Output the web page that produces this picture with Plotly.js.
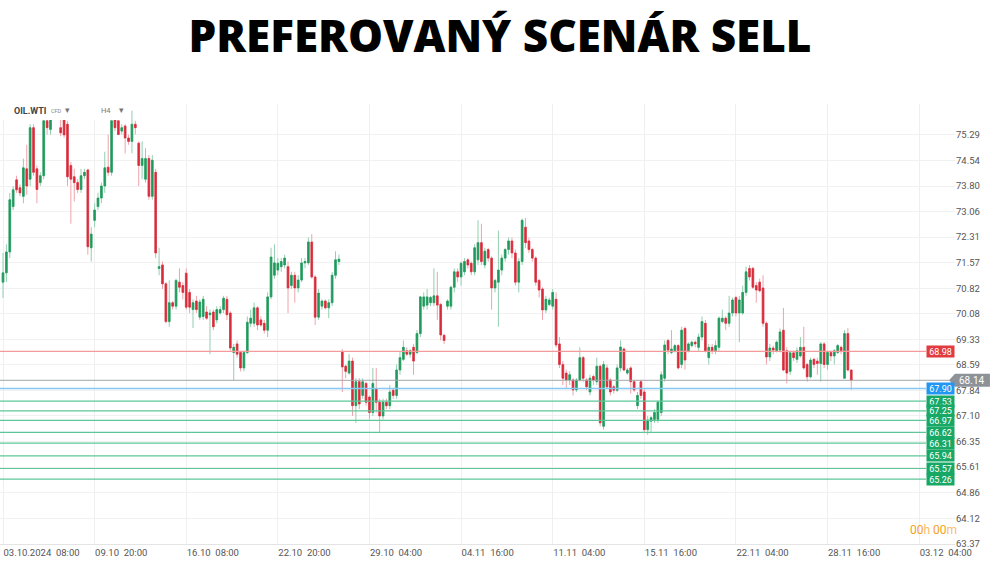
<!DOCTYPE html>
<html>
<head>
<meta charset="utf-8">
<script src="https://cdn.plot.ly/plotly-3.0.1.min.js"></script>
<style>html,body{margin:0;padding:0;background:#fff;}#chart{width:1000px;height:562px;}</style>
</head>
<body>
<div id="chart"></div>
<script>
// ---- DATA (H4 candles, OIL.WTI) ----
const openP = [71.00,71.27,71.88,73.20,73.98,73.75,73.50,74.30,74.00,75.50,
74.30,73.90,74.10,75.70,75.45,75.75,76.30,75.50,75.75,75.60,
74.40,74.07,73.90,73.70,74.10,74.27,72.00,72.80,73.20,73.45,
73.80,74.35,74.20,75.75,75.70,75.40,75.55,75.20,75.10,75.60,
75.05,74.40,74.00,74.60,73.50,74.20,71.40,71.50,70.95,69.85,
70.40,70.30,71.00,70.90,71.26,70.70,70.20,70.45,69.98,70.00,
70.13,70.05,70.13,69.90,70.10,70.20,70.50,70.10,68.95,69.20,
68.95,68.50,68.95,69.80,69.80,70.25,69.90,69.80,69.60,70.57,
71.20,71.35,71.45,71.50,71.45,70.90,71.20,70.83,71.06,71.56,
71.56,72.17,71.15,69.98,70.30,70.45,70.25,70.40,71.20,71.60,
68.97,68.55,68.35,68.70,67.40,68.10,67.70,68.05,67.65,67.20,
67.90,67.50,67.10,67.50,67.40,67.85,67.70,68.44,68.75,69.00,
68.90,69.10,68.95,69.50,70.30,70.33,70.40,70.40,70.60,70.35,
69.45,70.30,70.30,70.85,71.30,71.15,71.30,71.65,71.55,71.30,
71.65,72.15,71.50,71.95,71.70,70.83,71.00,71.35,71.70,71.95,
72.20,71.85,71.00,71.60,72.60,72.20,71.95,71.70,71.05,70.80,
70.19,70.35,70.30,70.50,69.20,68.60,68.35,68.15,68.15,67.86,
68.15,68.80,68.15,67.80,68.25,68.10,68.55,66.80,68.50,68.15,
67.95,67.85,68.50,69.05,68.35,68.50,68.10,67.40,68.10,67.80,
66.70,66.95,67.00,67.00,67.20,68.20,69.30,68.95,69.00,69.15,
68.60,69.65,69.00,69.15,69.25,69.10,69.40,69.80,68.80,69.10,
69.00,69.10,69.85,69.95,69.80,70.10,70.55,70.10,70.10,70.70,
71.40,71.40,70.90,71.00,70.83,69.80,68.82,69.08,69.00,69.02,
69.60,69.00,68.40,68.94,68.75,68.85,69.10,68.60,68.24,68.75,
68.70,68.63,69.20,68.60,68.95,68.85,68.95,69.10,68.20,69.50,
68.44];
const highP = [71.85,72.10,73.60,73.80,74.10,73.85,74.60,75.00,75.60,75.60,
74.40,74.20,76.00,76.00,76.00,76.60,76.50,75.80,75.90,75.70,
74.50,74.30,74.00,74.30,74.30,74.30,72.60,73.30,73.60,73.90,
74.80,75.30,75.90,75.90,75.80,75.60,75.60,75.30,76.00,75.70,
75.10,75.10,74.90,74.70,74.70,74.30,72.00,71.60,71.00,71.05,
70.45,71.10,71.40,71.00,71.40,70.80,70.50,70.60,70.50,70.60,
70.30,70.20,70.20,70.30,70.30,70.60,70.60,70.15,69.20,69.30,
69.00,69.00,70.00,70.20,70.40,70.30,70.00,69.90,70.70,72.00,
72.10,71.70,71.70,71.80,71.60,71.30,71.30,71.20,71.70,71.70,
72.30,72.40,71.20,70.80,70.50,70.50,70.50,71.30,71.90,71.80,
69.05,68.60,68.90,68.80,68.20,68.20,68.20,68.10,67.70,68.50,
68.50,67.60,67.60,67.60,68.00,67.90,68.60,69.00,69.30,69.10,
69.05,69.20,69.60,70.60,70.70,70.80,70.60,71.40,71.30,70.40,
69.50,70.50,70.90,71.40,71.40,71.60,71.70,71.70,71.60,72.10,
72.80,72.70,72.00,72.00,71.75,71.10,72.50,71.80,72.00,72.30,
72.30,71.95,71.70,72.85,72.87,72.30,72.00,71.75,71.10,70.85,
70.60,70.55,70.80,70.70,69.40,68.70,68.45,68.40,68.20,68.20,
69.10,68.85,68.20,68.30,68.30,68.80,68.60,68.70,68.60,68.20,
68.00,68.60,69.30,69.10,68.50,68.55,68.15,67.80,68.15,67.90,
67.10,67.10,67.30,67.55,68.40,69.30,69.35,69.60,69.20,69.20,
69.70,69.70,69.25,69.30,69.30,69.50,70.00,69.90,69.20,69.20,
69.30,70.00,70.20,70.00,70.60,70.55,70.60,70.60,70.90,71.45,
71.50,71.45,71.00,71.10,71.20,69.85,69.20,69.15,69.30,69.65,
70.25,69.10,69.00,69.00,69.10,69.40,69.70,68.65,68.80,68.80,
68.80,69.25,69.25,69.00,69.00,69.05,69.20,69.15,69.60,69.66,
68.44];
const lowP = [70.54,71.00,71.70,73.10,73.60,73.50,73.30,73.55,73.80,74.10,
73.30,73.80,74.00,75.30,75.30,75.75,75.80,75.25,75.20,73.80,
72.70,73.35,73.60,73.60,74.00,71.80,71.60,72.60,73.10,73.30,
73.60,74.10,74.10,75.40,75.30,75.30,74.75,75.00,74.75,75.30,
73.80,74.00,73.90,73.40,73.40,71.70,71.20,70.80,69.80,69.70,
70.20,70.20,70.70,70.50,70.20,70.10,69.66,70.10,69.90,69.90,
69.90,68.90,69.60,69.80,70.05,70.10,69.90,69.00,68.15,68.80,
68.40,68.40,68.90,69.70,69.70,69.60,69.70,69.50,69.40,70.50,
71.10,71.20,71.30,71.40,70.10,70.80,70.40,70.70,71.00,71.40,
71.50,71.10,69.75,69.90,70.20,70.20,69.95,70.30,71.10,71.50,
67.80,68.20,68.30,67.10,66.90,67.30,67.60,67.40,67.00,67.10,
67.20,66.60,67.00,67.30,67.30,67.60,67.60,68.30,68.70,68.85,
68.80,68.30,68.90,69.40,70.20,70.20,70.30,70.30,69.90,69.30,
69.20,70.20,70.20,70.70,71.00,70.90,71.20,71.40,71.20,71.20,
71.50,71.50,71.40,71.60,70.20,70.70,69.70,71.20,71.60,71.80,
71.70,70.90,70.70,71.50,72.00,71.85,71.60,70.90,70.55,69.90,
70.10,70.30,70.20,69.10,68.50,68.00,67.90,68.00,67.70,67.80,
68.10,68.10,67.85,67.70,68.00,68.00,66.80,66.70,67.90,67.70,
67.75,67.80,68.40,68.40,68.30,67.75,67.80,67.30,67.60,66.60,
66.55,66.60,66.90,66.90,67.10,68.10,68.90,68.90,68.95,68.45,
68.50,68.45,68.95,69.10,69.10,69.00,69.30,68.95,68.60,68.90,
68.90,69.00,69.80,69.60,69.70,70.00,70.00,69.25,70.05,70.60,
71.05,70.80,70.40,70.70,69.70,68.60,68.70,68.90,68.95,68.95,
68.40,68.05,68.30,68.70,68.65,68.80,68.45,68.10,68.20,68.50,
68.30,68.10,68.50,68.45,68.70,68.60,68.90,68.90,68.20,68.40,
67.86];
const closeP = [71.27,71.88,73.40,73.69,73.69,73.60,74.33,73.80,75.50,74.20,
73.70,74.10,75.70,75.50,75.75,76.30,75.90,75.35,75.29,74.07,
74.00,73.90,73.70,74.10,74.20,72.03,72.40,73.10,73.45,73.80,
74.33,74.20,75.70,75.50,75.30,75.50,75.20,75.10,75.60,75.50,
74.40,74.60,74.60,73.50,74.55,71.85,71.45,70.95,69.85,70.40,
70.30,71.05,70.85,70.70,70.27,70.27,70.40,70.20,70.42,70.50,
69.95,70.10,69.70,70.20,70.20,70.53,70.05,69.08,69.10,68.90,
68.50,68.95,69.83,69.95,70.25,69.75,69.75,69.60,70.57,71.73,
71.56,71.55,71.60,71.70,70.83,71.20,70.83,71.06,71.56,71.60,
72.17,71.15,69.98,70.68,70.45,70.25,70.40,71.20,71.65,71.67,
68.53,68.40,68.70,67.40,68.10,67.45,68.10,67.50,67.20,68.05,
67.50,67.10,67.50,67.40,67.80,67.70,68.44,68.80,69.10,68.90,
69.00,68.70,69.50,70.57,70.57,70.57,70.55,70.60,70.33,69.46,
69.30,70.45,70.85,71.30,71.15,71.55,71.60,71.50,71.30,72.00,
72.15,71.60,71.90,71.70,70.83,71.05,71.35,71.70,71.95,72.20,
71.85,71.00,71.60,72.80,72.15,71.95,71.70,71.00,70.77,70.19,
70.50,70.48,70.70,69.17,68.60,68.20,68.15,68.30,67.86,68.15,
68.80,68.20,67.95,68.20,68.15,68.55,66.90,68.60,67.95,67.80,
67.85,68.50,69.11,68.44,68.44,68.10,67.86,67.70,67.70,66.70,
66.98,67.05,67.20,67.50,68.30,69.17,69.02,69.05,69.15,68.50,
69.60,68.73,69.20,69.25,69.20,69.40,69.85,69.00,69.10,69.00,
69.15,69.95,69.95,69.80,70.10,70.48,70.10,70.48,70.70,71.30,
71.15,70.85,70.77,70.75,69.80,68.82,69.08,69.02,69.25,69.55,
68.44,68.35,68.94,68.80,69.00,69.10,68.50,68.24,68.73,68.60,
68.63,69.20,68.60,68.95,68.85,69.00,69.15,69.00,69.50,68.44,
68.14];

// x-axis tick labels (candle index positions) and texts
const xTickIdx = [0,27,54,81,108,135,162,189,216,243,270];
const xTickText = ["03.10.2024\u00a0 08:00","09.10\u00a0 20:00","16.10\u00a0 08:00","22.10\u00a0 20:00","29.10\u00a0 04:00","04.11\u00a0 16:00","11.11\u00a0 04:00","15.11\u00a0 16:00","22.11\u00a0 04:00","28.11\u00a0 16:00","03.12\u00a0 04:00"];
// y-axis price ticks
const yTicks = [75.29,74.54,73.80,73.06,72.31,71.57,70.82,70.08,69.33,68.59,67.84,67.10,66.35,65.61,64.86,64.12,63.37];
const yTickText = ["75.29","74.54","73.80","73.06","72.31","71.57","70.82","70.08","69.33","68.59","67.84","67.10","66.35","65.61","64.86","64.12","63.37"];

// price levels
const sellLevel = 68.98;
const entryLevel = 67.90;
const targetLevels = [67.53,67.25,66.97,66.62,66.31,65.94,65.57,65.26];
const lastPrice = 68.14;

// ---- CHART ----
const xs = openP.map((_, i) => i);
const bodyHigh = openP.map((o, i) => Math.max(o, closeP[i]));
const bodyLow = openP.map((o, i) => Math.min(o, closeP[i]));

const GREEN = '#1f9a5c', RED = '#d92b3a';
const GREEN_W = '#92cfb0', RED_W = '#eea3ab';

const wicks = {
  type: 'candlestick', x: xs, open: openP, high: highP, low: lowP, close: closeP,
  increasing: {line: {color: GREEN_W, width: 1}, fillcolor: GREEN_W},
  decreasing: {line: {color: RED_W, width: 1}, fillcolor: RED_W},
  whiskerwidth: 0, hoverinfo: 'skip', showlegend: false
};
const bodies = {
  type: 'candlestick', x: xs, open: openP, high: bodyHigh, low: bodyLow, close: closeP,
  increasing: {line: {color: GREEN, width: 0.6}, fillcolor: GREEN},
  decreasing: {line: {color: RED, width: 0.6}, fillcolor: RED},
  whiskerwidth: 0, hoverinfo: 'skip', showlegend: false
};

const LABEL_X = 926/955;
const shapes = [];
const annotations = [];

function levelLine(price, color, x1, w) {
  shapes.push({type: 'line', xref: 'paper', yref: 'y', x0: 0, x1: x1, y0: price, y1: price,
    line: {color: color, width: w || 1}, layer: 'above'});
}
function levelLabel(price, bg) {
  annotations.push({xref: 'paper', yref: 'y', x: LABEL_X, y: price, xanchor: 'left', yanchor: 'middle',
    text: price.toFixed(2), showarrow: false, bgcolor: bg, width: 27, height: 11, borderpad: 0,
    font: {family: 'Roboto', size: 9, color: '#ffffff'}});
}

levelLine(lastPrice, '#a3a6a9', 0.994, 1);
levelLine(sellLevel, '#f59a9a', LABEL_X, 1.3);
levelLabel(sellLevel, '#e23b3f');
levelLine(entryLevel, '#86c8f4', LABEL_X, 1.3);
levelLabel(entryLevel, '#2196f3');
targetLevels.forEach(p => { levelLine(p, '#5cc698', LABEL_X, 1.2); levelLabel(p, '#18a866'); });

// current price arrow label
shapes.push({type: 'path', xref: 'paper', yref: 'y', layer: 'above',
  path: 'M 0.9937,' + lastPrice + ' L 1.0,' + (lastPrice + 0.19) + ' L 1.0366,' + (lastPrice + 0.19) +
        ' L 1.0366,' + (lastPrice - 0.19) + ' L 1.0,' + (lastPrice - 0.19) + ' Z',
  fillcolor: '#8d9298', line: {width: 0}});
annotations.push({xref: 'paper', yref: 'y', x: 1.0178, y: lastPrice, xanchor: 'center', yanchor: 'middle',
  text: lastPrice.toFixed(2), showarrow: false, font: {family: 'Roboto', size: 10, color: '#ffffff'}});

// header strip (legend area) covering top-left
shapes.push({type: 'rect', xref: 'paper', yref: 'paper', x0: 0, x1: 128/955, y0: (544-120)/440, y1: 1.0,
  fillcolor: '#ffffff', line: {width: 0}, layer: 'above'});
annotations.push({xref: 'paper', yref: 'paper', x: 12/955, y: (544-111)/440, xanchor: 'left', yanchor: 'middle',
  text: '<b>OIL.WTI</b>', showarrow: false, font: {family: 'Roboto', size: 9, color: '#444'}});
annotations.push({xref: 'paper', yref: 'paper', x: 49/955, y: (544-111)/440, xanchor: 'left', yanchor: 'middle',
  text: 'CFD', showarrow: false, font: {family: 'Roboto', size: 5.5, color: '#888'}});
annotations.push({xref: 'paper', yref: 'paper', x: 63/955, y: (544-110)/440, xanchor: 'left', yanchor: 'middle',
  text: '\u25BE', showarrow: false, font: {family: 'DejaVu Sans', size: 9, color: '#777'}});
annotations.push({xref: 'paper', yref: 'paper', x: 99/955, y: (544-111)/440, xanchor: 'left', yanchor: 'middle',
  text: 'H4', showarrow: false, font: {family: 'Roboto', size: 7.5, color: '#777'}});
annotations.push({xref: 'paper', yref: 'paper', x: 117/955, y: (544-110)/440, xanchor: 'left', yanchor: 'middle',
  text: '\u25BE', showarrow: false, font: {family: 'DejaVu Sans', size: 9, color: '#777'}});

// countdown
annotations.push({xref: 'paper', yref: 'paper', x: 908/955, y: (544-530)/440, xanchor: 'left', yanchor: 'middle',
  text: '<span style="color:#f5a11a">00</span><span style="color:#f7bd6c">h</span> <span style="color:#f5a11a">00</span><span style="color:#f7bd6c">m</span>',
  showarrow: false, font: {family: 'Roboto', size: 12, color: '#f5a11a'}});

const layout = {
  width: 1000, height: 562,
  margin: {l: 0, r: 45, t: 104, b: 18, pad: 0},
  paper_bgcolor: '#ffffff', plot_bgcolor: '#ffffff',
  title: {text: 'PREFEROVANÝ SCENÁR SELL', x: 0.5, xanchor: 'center', xref: 'container',
    y: 1 - 37/562, yref: 'container', yanchor: 'middle',
    font: {family: 'Open Sans', size: 44, color: '#000000', weight: 800}},
  showlegend: false,
  hovermode: false,
  xaxis: {
    type: 'linear', range: [-0.884, 280.57], tickmode: 'array', tickvals: xTickIdx, ticktext: xTickText,
    ticklabelposition: 'outside right', ticks: '', showgrid: true, gridcolor: '#efefef', gridwidth: 1,
    zeroline: false, showline: true, linecolor: '#e4e4e4', linewidth: 1,
    tickfont: {family: 'Roboto', size: 9.5, color: '#555'},
    rangeslider: {visible: false}, fixedrange: true
  },
  yaxis: {
    side: 'right', range: [63.37, 76.19], tickmode: 'array', tickvals: yTicks, ticktext: yTickText,
    ticks: '', showgrid: true, gridcolor: '#f1f1f1', gridwidth: 1, zeroline: false, showline: false,
    tickfont: {family: 'Roboto', size: 9.5, color: '#555'}, fixedrange: true
  },
  shapes: shapes,
  annotations: annotations
};

Plotly.newPlot('chart', [wicks, bodies], layout, {staticPlot: true, displayModeBar: false});
</script>
</body>
</html>
